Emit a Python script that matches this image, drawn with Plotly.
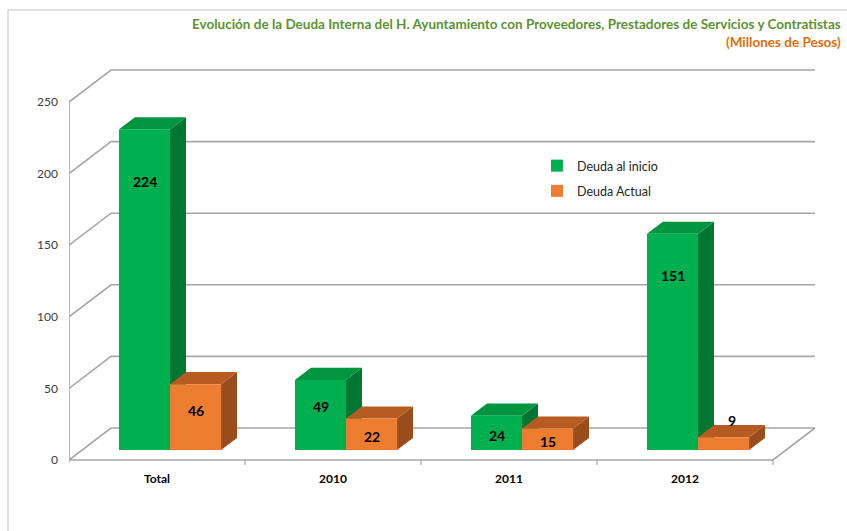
import plotly.graph_objects as go

# ---------------- data ----------------
categories = ["Total", "2010", "2011", "2012"]
deuda_inicio = [224, 49, 24, 151]
deuda_actual = [46, 22, 15, 9]
y_ticks = [0, 50, 100, 150, 200, 250]
series_names = ["Deuda al inicio", "Deuda Actual"]

title_line1 = "Evolución de la Deuda Interna del H. Ayuntamiento con Proveedores, Prestadores de Servicios y Contratistas"
title_line2 = "(Millones de Pesos)"

# ---------------- styling / geometry ----------------
W, H = 847, 531
ML, MR, MT, MB = 69, 17, 60, 61
PW, PH = W - ML - MR, H - MT - MB
XPX = 176.0          # pixels per category unit
YPX = 1.432          # pixels per value unit
X0 = -0.5
X1 = X0 + PW / XPX
Y0 = -10 / YPX
Y1 = Y0 + PH / YPX
DX = 42 / XPX        # depth offset (x) in data units
DY = 32 / YPX        # depth offset (y) in data units
D0, D1 = 0.31, 0.69  # bar depth span
BW = 0.29            # bar width (category units)
N = len(categories)

GREEN = ["#00b050", "#00953f", "#007633"]   # front, top, side
ORANGE = ["#ed7d31", "#b65b22", "#9a4d1c"]
GRID = "#a6a6a6"
FONT = "Lato, 'Open Sans', sans-serif"

fig = go.Figure()
shapes = []


def line(pts, color=GRID, width=1.6):
    path = "M " + " L ".join(f"{x},{y}" for x, y in pts)
    shapes.append(dict(type="path", path=path, xref="x", yref="y",
                       line=dict(color=color, width=width), layer="below"))


def poly(pts, color):
    path = "M " + " L ".join(f"{x},{y}" for x, y in pts) + " Z"
    shapes.append(dict(type="path", path=path, xref="x", yref="y",
                       fillcolor=color, line=dict(width=0), layer="below"))


# walls / gridlines
xr_back = (N - 0.5) + DX
for v in y_ticks:
    line([(X0, v), (X0 + DX, v + DY), (xr_back, v + DY)])
line([(X0, 0), (X0, y_ticks[-1])])
line([(X0, 0), (N - 0.5, 0), (N - 0.5 + DX, DY)])
for k in range(N):
    xb = k + 0.5
    line([(xb, 0), (xb, -5 / YPX)], width=1.2)
line([(X0, 0), (X0 - 4 / XPX, 0)], width=1.2)
line([(X0, 0), (X0, -3 / YPX)], width=1.2)

# 3D faces (top and side) for each bar, back-to-front order
for i in range(N):
    for vals, cols, xl in ((deuda_inicio, GREEN, i - BW), (deuda_actual, ORANGE, i)):
        v = vals[i]
        xr = xl + BW
        poly([(xr + D0 * DX, D0 * DY), (xr + D1 * DX, D1 * DY),
              (xr + D1 * DX, v + D1 * DY), (xr + D0 * DX, v + D0 * DY)], cols[2])
        poly([(xl + D0 * DX, v + D0 * DY), (xl + D1 * DX, v + D1 * DY),
              (xr + D1 * DX, v + D1 * DY), (xr + D0 * DX, v + D0 * DY)], cols[1])

# front faces as bars
for name, vals, cols, off in ((series_names[0], deuda_inicio, GREEN, -BW / 2),
                              (series_names[1], deuda_actual, ORANGE, BW / 2)):
    fig.add_trace(go.Bar(
        name=name,
        x=[i + off + D0 * DX for i in range(N)],
        y=vals,
        base=[D0 * DY] * N,
        width=[BW] * N,
        marker=dict(color=cols[0], line=dict(width=0)),
        legendgroup=name,
        hoverinfo="skip",
    ))

# data labels
annotations = []
for vals, off in ((deuda_inicio, -BW / 2), (deuda_actual, BW / 2)):
    for i, v in enumerate(vals):
        hpx = v * YPX
        top = v + D0 * DY
        xc = i + off + D0 * DX
        if hpx < 20:
            yl = top + 17 / YPX
            xc += (D1 - D0) / 2 * DX
        else:
            offpx = min(0.1 * hpx + 20, 0.58 * hpx)
            yl = top - offpx / YPX
        annotations.append(dict(x=xc, y=yl, xref="x", yref="y", text=f"<b>{v}</b>",
                                showarrow=False, font=dict(family=FONT, size=14, color="#000000")))

# title
annotations.append(dict(
    xref="paper", yref="paper", x=(843 - ML) / PW, y=(H - MB - 14) / PH,
    xanchor="right", yanchor="top", align="right", showarrow=False,
    text=(f"<b>{title_line1}</b><br>"
          f"<span style='color:#e36c0a'><b>{title_line2}</b></span>"),
    font=dict(family=FONT, size=13.5, color="#5b9331"),
))

# chart border (outer frame)
shapes.append(dict(type="path", xref="paper", yref="paper",
                   path=(f"M {(8 - ML) / PW},{(H - MB - H - 5) / PH} "
                         f"L {(8 - ML) / PW},{(H - MB - 10) / PH} "
                         f"L {(W + 5 - ML) / PW},{(H - MB - 10) / PH}"),
                   line=dict(color="#d9d9d9", width=1.5)))

fig.update_layout(
    width=W, height=H,
    margin=dict(l=ML, r=MR, t=MT, b=MB, pad=0),
    paper_bgcolor="white", plot_bgcolor="white",
    barmode="overlay",
    shapes=shapes,
    annotations=annotations,
    showlegend=True,
    legend=dict(x=(537 - ML) / PW, y=(H - MB - 151) / PH, xanchor="left", yanchor="top",
                bgcolor="rgba(0,0,0,0)", font=dict(family=FONT, size=12.5, color="#262626"),
                traceorder="grouped", tracegroupgap=6, itemwidth=30),
    xaxis=dict(range=[X0, X1], showgrid=False, zeroline=False, showline=False,
               tickmode="array", tickvals=list(range(N)), ticktext=[f"<b>{c}</b>" for c in categories],
               ticks="", tickfont=dict(family=FONT, size=12, color="#000000"),
               ticklabelstandoff=0, fixedrange=True),
    yaxis=dict(range=[Y0, Y1], showgrid=False, zeroline=False, showline=False,
               tickmode="array", tickvals=y_ticks, ticks="",
               tickfont=dict(family=FONT, size=12, color="#404040"),
               ticklabelstandoff=10, fixedrange=True),
    font=dict(family=FONT),
)

fig.write_html("out.html", config={"displayModeBar": False},
               post_script="document.body.style.margin='0';")
